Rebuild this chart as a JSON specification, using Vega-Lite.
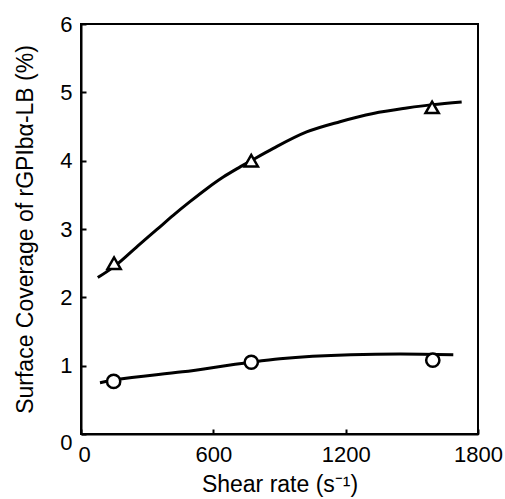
{
  "$schema": "https://vega.github.io/schema/vega-lite/v6.json",
  "autosize": "none",
  "width": 397,
  "height": 410,
  "padding": {"left": 81, "top": 24, "right": 27, "bottom": 65},
  "background": "white",
  "config": {
    "view": {"stroke": "black", "strokeWidth": 2},
    "font": "Liberation Sans",
    "axis": {
      "domainColor": "black",
      "domainWidth": 2,
      "tickColor": "black",
      "tickWidth": 2,
      "tickSize": -5,
      "grid": false,
      "labelFont": "Liberation Sans",
      "labelFontSize": 22,
      "labelColor": "black",
      "titleFont": "Liberation Sans",
      "titleFontSize": 23,
      "titleFontWeight": "normal",
      "titleColor": "black"
    }
  },
  "datasets": {
    "fit": [
      {"series": "rGPIbα-LB (triangle)", "shear": 76, "coverage": 2.29},
      {"series": "rGPIbα-LB (triangle)", "shear": 150, "coverage": 2.45},
      {"series": "rGPIbα-LB (triangle)", "shear": 267, "coverage": 2.78},
      {"series": "rGPIbα-LB (triangle)", "shear": 343, "coverage": 2.99},
      {"series": "rGPIbα-LB (triangle)", "shear": 418, "coverage": 3.20},
      {"series": "rGPIbα-LB (triangle)", "shear": 494, "coverage": 3.40},
      {"series": "rGPIbα-LB (triangle)", "shear": 570, "coverage": 3.59},
      {"series": "rGPIbα-LB (triangle)", "shear": 645, "coverage": 3.76},
      {"series": "rGPIbα-LB (triangle)", "shear": 706, "coverage": 3.88},
      {"series": "rGPIbα-LB (triangle)", "shear": 766, "coverage": 3.99},
      {"series": "rGPIbα-LB (triangle)", "shear": 872, "coverage": 4.18},
      {"series": "rGPIbα-LB (triangle)", "shear": 1023, "coverage": 4.42},
      {"series": "rGPIbα-LB (triangle)", "shear": 1174, "coverage": 4.57},
      {"series": "rGPIbα-LB (triangle)", "shear": 1325, "coverage": 4.69},
      {"series": "rGPIbα-LB (triangle)", "shear": 1477, "coverage": 4.77},
      {"series": "rGPIbα-LB (triangle)", "shear": 1593, "coverage": 4.82},
      {"series": "rGPIbα-LB (triangle)", "shear": 1726, "coverage": 4.86},
      {"series": "control (circle)", "shear": 86, "coverage": 0.75},
      {"series": "control (circle)", "shear": 151, "coverage": 0.79},
      {"series": "control (circle)", "shear": 460, "coverage": 0.91},
      {"series": "control (circle)", "shear": 769, "coverage": 1.05},
      {"series": "control (circle)", "shear": 902, "coverage": 1.10},
      {"series": "control (circle)", "shear": 1223, "coverage": 1.16},
      {"series": "control (circle)", "shear": 1447, "coverage": 1.17},
      {"series": "control (circle)", "shear": 1688, "coverage": 1.16}
    ],
    "points": [
      {"series": "rGPIbα-LB (triangle)", "shear": 150, "coverage": 2.50},
      {"series": "rGPIbα-LB (triangle)", "shear": 772, "coverage": 4.00},
      {"series": "rGPIbα-LB (triangle)", "shear": 1592, "coverage": 4.78},
      {"series": "control (circle)", "shear": 148, "coverage": 0.77},
      {"series": "control (circle)", "shear": 772, "coverage": 1.05},
      {"series": "control (circle)", "shear": 1595, "coverage": 1.08}
    ]
  },
  "encoding": {
    "x": {
      "field": "shear",
      "type": "quantitative",
      "scale": {"domain": [0, 1800], "nice": false, "zero": false},
      "axis": {
        "values": [0, 600, 1200, 1800],
        "format": "d",
        "title": "Shear rate (s⁻¹)",
        "titlePadding": 8,
        "labelPadding": 15,
        "labelFlush": false,
        "labelOffset": {"condition": {"test": "datum.value === 0", "value": 3}, "value": 0}
      }
    },
    "y": {
      "field": "coverage",
      "type": "quantitative",
      "scale": {"domain": [0, 6], "nice": false},
      "axis": {
        "values": [0, 1, 2, 3, 4, 5, 6],
        "title": "Surface Coverage of rGPIbα-LB (%)",
        "titlePadding": 22,
        "labelPadding": 14,
        "labelFlush": false,
        "labelOffset": {"condition": {"test": "datum.value === 0", "value": 8}, "value": 0}
      }
    }
  },
  "layer": [
    {
      "data": {"name": "fit"},
      "mark": {"type": "line", "interpolate": "monotone", "color": "black", "strokeWidth": 3},
      "encoding": {"detail": {"field": "series"}}
    },
    {
      "data": {"name": "points"},
      "mark": {"type": "point", "filled": false, "fill": "white", "fillOpacity": 1, "stroke": "black", "strokeWidth": 2.5, "size": 175, "opacity": 1},
      "encoding": {
        "shape": {
          "field": "series",
          "type": "nominal",
          "scale": {"domain": ["rGPIbα-LB (triangle)", "control (circle)"], "range": ["triangle-up", "circle"]},
          "legend": null
        }
      }
    }
  ]
}
